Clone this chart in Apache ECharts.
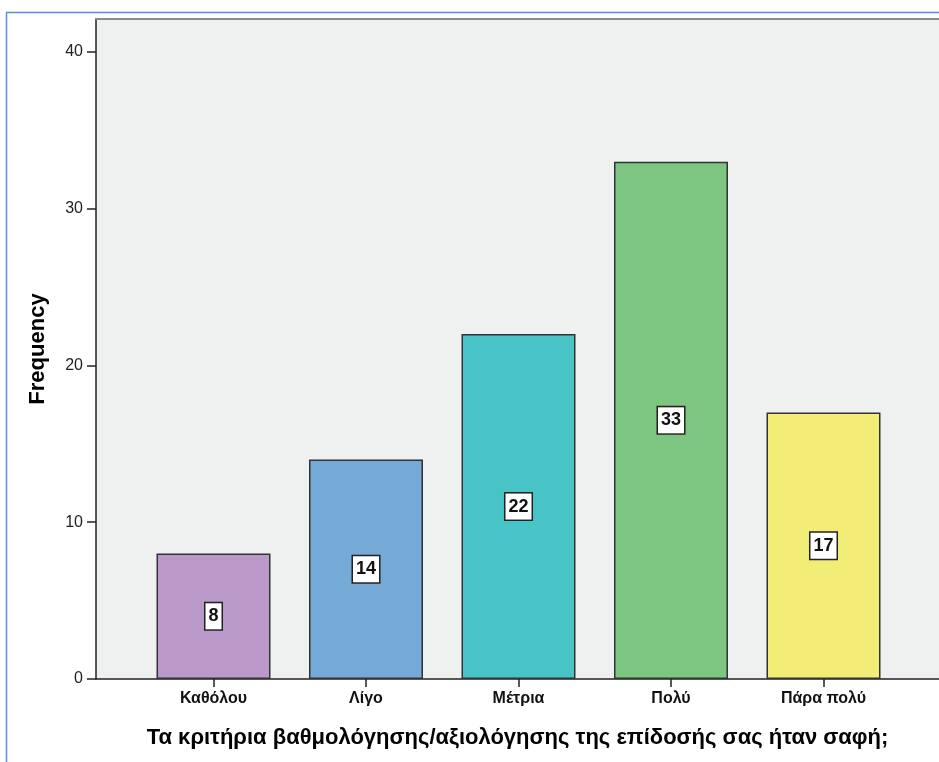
<!DOCTYPE html>
<html>
<head>
<meta charset="utf-8">
<script src="https://cdn.jsdelivr.net/npm/echarts@6/dist/echarts.min.js"></script>
<style>
  html, body { margin: 0; padding: 0; background: #fff; }
  #main { width: 939px; height: 762px; }
</style>
</head>
<body>
<div id="main"></div>
<script>
// categories and frequencies
var categories = ['Καθόλου', 'Λίγο', 'Μέτρια', 'Πολύ', 'Πάρα πολύ'];
var counts = [8, 14, 22, 33, 17];
var barColors = ['#b899c8', '#75a9d6', '#48c3c6', '#7dc682', '#f2ed76'];
var yTicks = [0, 10, 20, 30, 40];
var xTicks = [0, 1, 2, 3, 4];

var myChart = echarts.init(document.getElementById('main'));

var barData = counts.map(function (v, i) {
  return { value: [i, v], itemStyle: { color: barColors[i] } };
});

var option = {
  animation: false,
  textStyle: { fontFamily: 'Liberation Sans, Arial, sans-serif', color: '#000' },
  graphic: [{
    type: 'polyline',
    shape: { points: [[6.5, 762], [6.5, 12.5], [939, 12.5]] },
    style: { stroke: '#5b8ed6', lineWidth: 1.5, fill: null },
    silent: true
  }],
  grid: {
    left: 96, right: 0, top: 19, bottom: 83,
    show: true, backgroundColor: '#eff0f0', borderWidth: 0
  },
  xAxis: [{
    type: 'value',
    min: -0.7705, max: 4.7574,
    name: 'Τα κριτήρια βαθμολόγησης/αξιολόγησης της επίδοσής σας ήταν σαφή;',
    nameLocation: 'middle',
    nameGap: 48,
    nameTextStyle: { fontSize: 22, fontWeight: 'bold', color: '#000' },
    axisLine: { onZero: false, lineStyle: { color: '#222', width: 1.5 } },
    axisTick: { show: true, length: 8, customValues: xTicks, lineStyle: { color: '#222', width: 1.5 } },
    axisLabel: {
      customValues: xTicks, margin: 12, fontSize: 16, fontWeight: 'bold', color: '#111',
      formatter: function (v) { return categories[Math.round(v)]; }
    },
    splitLine: { show: false }
  }, {
    type: 'value',
    position: 'top',
    min: -0.7705, max: 4.7574,
    axisLine: { show: true, onZero: false, lineStyle: { color: '#8a8a8a', width: 2 } },
    axisTick: { show: false },
    axisLabel: { show: false },
    splitLine: { show: false }
  }],
  yAxis: {
    type: 'value',
    min: 0, max: 42.1,
    name: 'Frequency',
    nameLocation: 'middle',
    nameGap: 47,
    nameTextStyle: { fontSize: 22, fontWeight: 'bold', color: '#000' },
    axisLine: { show: true, onZero: false, lineStyle: { color: '#222', width: 1.5 } },
    axisTick: { show: true, length: 9, customValues: yTicks, lineStyle: { color: '#222', width: 1.5 } },
    axisLabel: { customValues: yTicks, margin: 13, fontSize: 16, color: '#222' },
    splitLine: { show: false }
  },
  series: [{
    type: 'bar',
    data: barData,
    barWidth: 114,
    itemStyle: { borderColor: '#333', borderWidth: 1.5 },
    label: {
      show: true,
      position: 'inside',
      formatter: function (p) { return p.value[1]; },
      fontSize: 18, fontWeight: 'bold', color: '#111',
      backgroundColor: '#fff', borderColor: '#222', borderWidth: 1.5,
      padding: [5, 3, 3, 3]
    }
  }]
};
myChart.setOption(option);

window.onresize = function () {
  myChart.resize();
};
</script>
</body>
</html>
